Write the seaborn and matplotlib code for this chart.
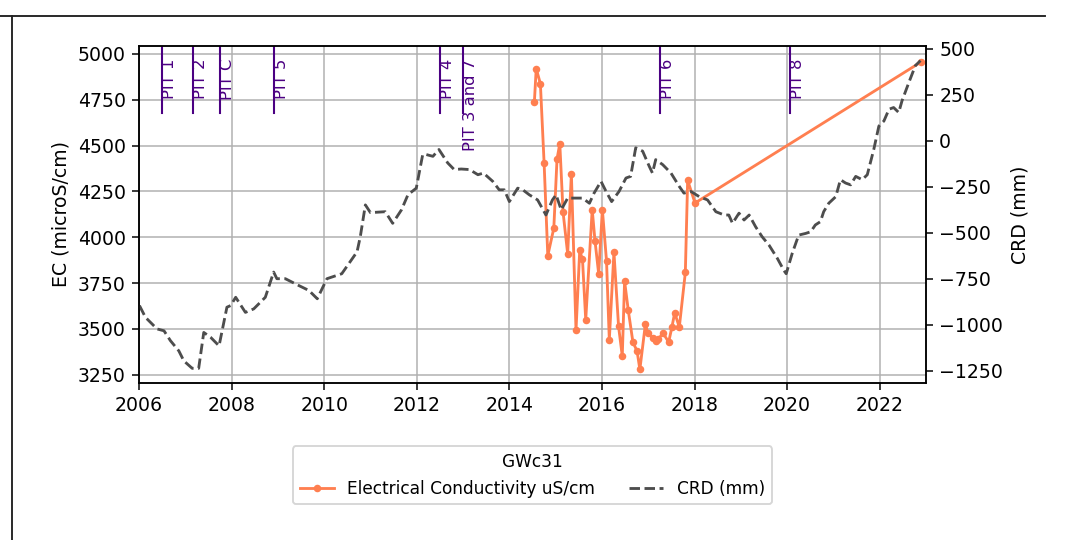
import matplotlib.dates as mdates
import matplotlib.pyplot as plt
import pandas as pd
import seaborn as sns
from matplotlib.lines import Line2D


# Output settings.
OUT_PATH = "out.png"
DPI = 136
FIG_SIZE = (1065 / DPI, 540 / DPI)

WELL_NAME = "GWc31"
EC_LABEL = "Electrical Conductivity uS/cm"
CRD_LABEL = "CRD (mm)"
EC_COLOR = "coral"
CRD_COLOR = "#4d4d4d"
PIT_COLOR = "indigo"

# Electrical conductivity samples (decimal year, uS/cm).
EC_YEARS = [
    2014.54, 2014.58, 2014.67, 2014.75, 2014.83, 2014.96, 2015.03, 2015.09,
    2015.16, 2015.26, 2015.34, 2015.44, 2015.52, 2015.58, 2015.65, 2015.79,
    2015.85, 2015.93, 2016.01, 2016.10, 2016.16, 2016.26, 2016.36, 2016.44,
    2016.49, 2016.57, 2016.67, 2016.76, 2016.82, 2016.94, 2016.99, 2017.10,
    2017.16, 2017.22, 2017.32, 2017.44, 2017.51, 2017.57, 2017.67, 2017.80,
    2017.85, 2018.01, 2022.89,
]
EC_VALUES = [
    4738, 4920, 4838, 4407, 3900, 4050, 4427, 4511,
    4138, 3910, 4347, 3492, 3928, 3879, 3550, 4151,
    3981, 3800, 4151, 3870, 3441, 3919, 3514, 3352,
    3761, 3601, 3428, 3379, 3279, 3528, 3479, 3450,
    3437, 3447, 3477, 3428, 3510, 3588, 3510, 3808,
    4311, 4187, 4956,
]

# Cumulative rainfall departure (decimal year, mm).
CRD_YEARS = [
    2006.01, 2006.14, 2006.39, 2006.54, 2006.68, 2006.86, 2006.97, 2007.15,
    2007.29, 2007.40, 2007.55, 2007.73, 2007.90, 2007.98, 2008.09, 2008.30,
    2008.48, 2008.73, 2008.91, 2008.98, 2009.16, 2009.45, 2009.67, 2009.85,
    2010.06, 2010.38, 2010.71, 2010.78, 2010.89, 2011.00, 2011.32, 2011.48,
    2011.67, 2011.81, 2011.99, 2012.13, 2012.20, 2012.35, 2012.48, 2012.67,
    2012.81, 2012.96, 2013.14, 2013.32, 2013.44, 2013.64, 2013.78, 2013.89,
    2014.00, 2014.18, 2014.29, 2014.43, 2014.61, 2014.79, 2014.93, 2015.01,
    2015.12, 2015.26, 2015.44, 2015.58, 2015.73, 2015.83, 2015.98, 2016.09,
    2016.21, 2016.37, 2016.52, 2016.62, 2016.73, 2016.88, 2017.02, 2017.09,
    2017.16, 2017.31, 2017.49, 2017.67, 2017.77, 2017.92, 2018.10, 2018.28,
    2018.46, 2018.64, 2018.74, 2018.82, 2018.96, 2019.07, 2019.18, 2019.32,
    2019.46, 2019.61, 2019.79, 2019.93, 2019.98, 2020.11, 2020.25, 2020.40,
    2020.51, 2020.61, 2020.72, 2020.79, 2020.90, 2021.05, 2021.15, 2021.26,
    2021.37, 2021.48, 2021.62, 2021.73, 2021.87, 2021.98, 2022.09, 2022.20,
    2022.30, 2022.41, 2022.48, 2022.63, 2022.77, 2022.88,
]
CRD_VALUES = [
    -895, -959, -1022, -1032, -1086, -1141, -1196, -1236,
    -1236, -1041, -1068, -1114, -904, -895, -850, -932,
    -913, -850, -713, -749, -749, -786, -813, -858,
    -749, -722, -603, -521, -348, -390, -385, -448,
    -375, -293, -257, -74, -74, -84, -47, -120,
    -156, -153, -156, -184, -175, -220, -266, -266,
    -330, -257, -266, -293, -321, -403, -321, -293,
    -375, -311, -311, -311, -339, -284, -220, -275,
    -330, -275, -202, -193, -38, -56, -138, -175,
    -102, -129, -175, -248, -284, -275, -303, -321,
    -385, -403, -403, -448, -393, -430, -403, -467,
    -521, -567, -639, -704, -722, -612, -512, -503,
    -494, -457, -439, -385, -339, -303, -211, -229,
    -239, -193, -211, -184, -47, 80, 108, 172,
    181, 154, 217, 318, 409, 436,
]

# Pit events.
PIT_NAMES = ["PIT 1", "PIT 2", "PIT C", "PIT 5", "PIT 4", "PIT 3 and 7", "PIT 6", "PIT 8"]
PIT_DATES = [
    "2006-07-01", "2007-03-01", "2007-10-01", "2008-12-01",
    "2012-07-01", "2013-01-01", "2017-04-01", "2020-01-27",
]


def decimal_years_to_dates(years):
    """Converte anos decimais em Timestamps."""
    return [
        pd.Timestamp(int(y), 1, 1) + pd.Timedelta(days=(y - int(y)) * 365.25)
        for y in years
    ]


def main() -> None:
    fig, ax = plt.subplots(figsize=FIG_SIZE, dpi=DPI)
    fig.subplots_adjust(left=0.1305, right=0.8695, top=0.915, bottom=0.291)
    ax2 = ax.twinx()

    sns.lineplot(
        x=decimal_years_to_dates(EC_YEARS),
        y=EC_VALUES,
        ax=ax,
        color=EC_COLOR,
        marker="o",
        markersize=4,
        markeredgecolor=EC_COLOR,
        markeredgewidth=0,
        label=EC_LABEL,
        legend=False,
    )
    ec_line = ax.lines[-1]

    sns.lineplot(
        x=decimal_years_to_dates(CRD_YEARS),
        y=CRD_VALUES,
        ax=ax2,
        color=CRD_COLOR,
        linestyle="--",
        label=CRD_LABEL,
        legend=False,
    )
    crd_line = ax2.lines[-1]

    for name, date in zip(PIT_NAMES, PIT_DATES):
        d = pd.Timestamp(date)
        ax.axvline(d, ymin=0.8, ymax=1.0, color=PIT_COLOR, lw=1.1)
        ax.text(d, 0.962, name, transform=ax.get_xaxis_transform(),
                rotation=90, va="top", ha="left", fontsize=8.7, color=PIT_COLOR)

    for a in (ax, ax2):
        if a.get_legend() is not None:
            a.get_legend().remove()

    ax.set_xlim(pd.Timestamp("2006-01-01"), pd.Timestamp("2023-01-01"))
    ax.set_ylim(3206, 5044)
    ax2.set_ylim(-1315, 516)
    ax.xaxis.set_major_locator(mdates.YearLocator(2))
    ax.xaxis.set_major_formatter(mdates.DateFormatter("%Y"))
    ax.grid(True)
    ax.set_xlabel("")
    ax.set_ylabel("EC (microS/cm)")
    ax2.set_ylabel("CRD (mm)")

    ax2.legend(
        handles=[ec_line, crd_line],
        labels=[EC_LABEL, CRD_LABEL],
        title=WELL_NAME,
        loc="upper center",
        bbox_to_anchor=(0.5, -0.163),
        ncol=2,
        fontsize=9,
        title_fontsize=9,
    )

    # Bordas da captura original.
    top = 1 - 16 / 540
    fig.add_artist(Line2D([0, 1045 / 1065], [top, top], transform=fig.transFigure,
                          color="#222222", lw=1.0))
    fig.add_artist(Line2D([11.5 / 1065, 11.5 / 1065], [0, top], transform=fig.transFigure,
                          color="#222222", lw=1.0))

    fig.savefig(OUT_PATH, dpi=DPI)
    plt.close(fig)


if __name__ == "__main__":
    main()
